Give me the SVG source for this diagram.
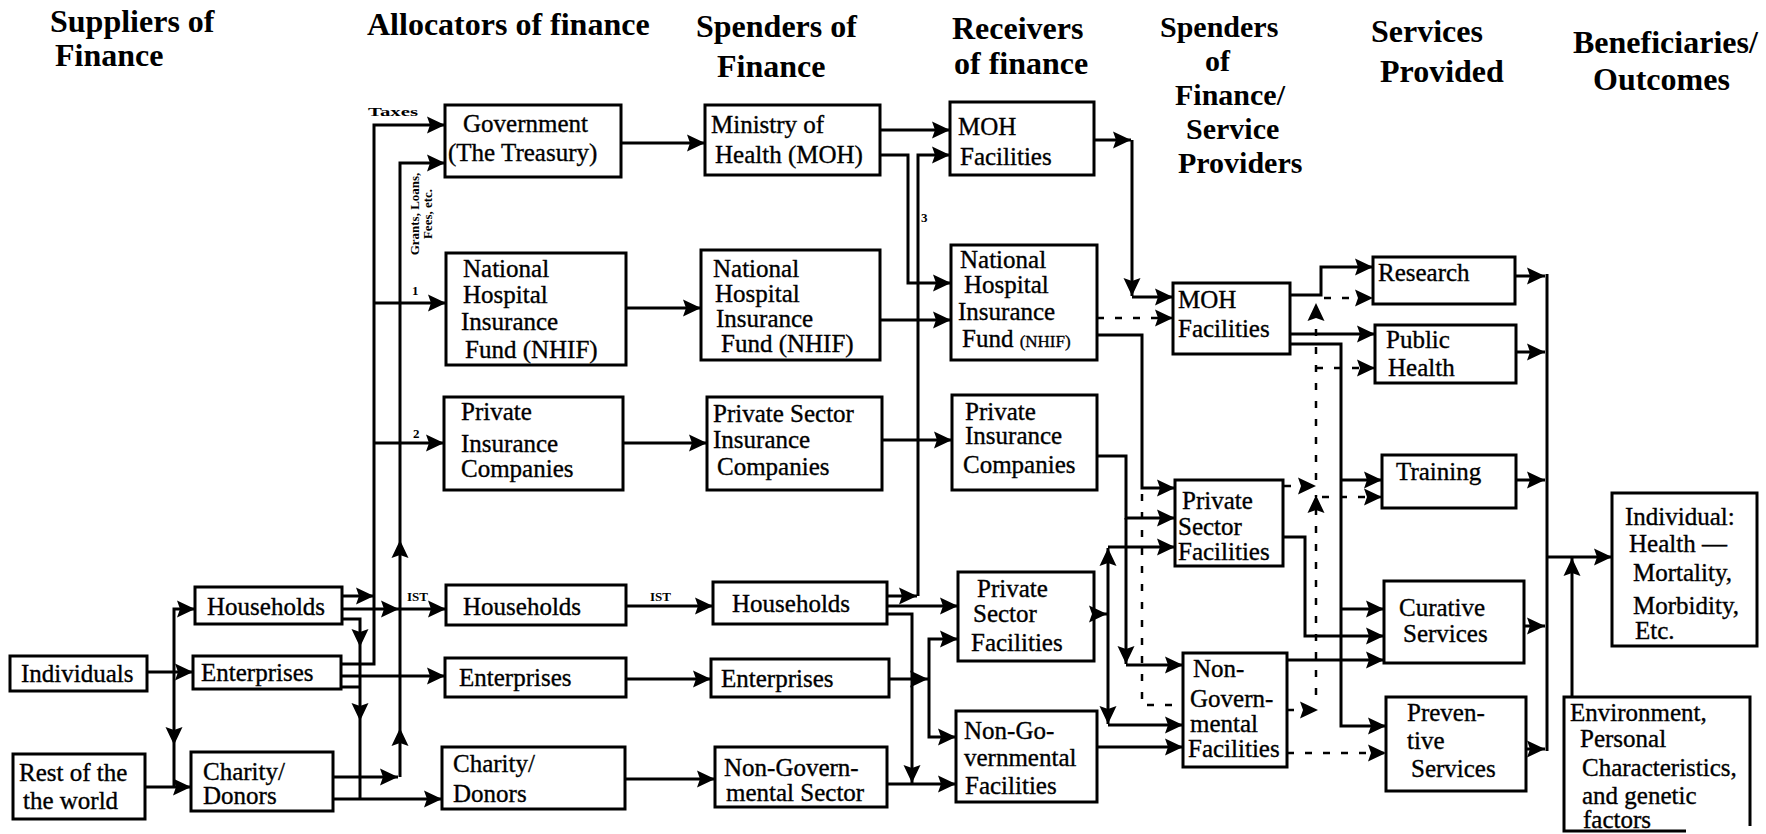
<svg xmlns="http://www.w3.org/2000/svg" width="1766" height="834" viewBox="0 0 1766 834" font-family="Liberation Serif, Times New Roman, serif">
<style>
.b{fill:#fff;stroke:#000;stroke-width:3}
.t{font-size:25px;fill:#000;stroke:#000;stroke-width:0.35px}
.h{font-size:32px;font-weight:bold;fill:#000}
.hs{font-size:30px}
.s{font-size:13px;font-weight:bold;fill:#000}
.c{fill:none;stroke:#000;stroke-width:3}
.a{marker-end:url(#ah)}
.d{fill:none;stroke:#000;stroke-width:2.5;stroke-dasharray:7 11}
</style>
<defs>
<marker id="ah" markerUnits="userSpaceOnUse" markerWidth="18" markerHeight="18" viewBox="0 0 18 18" refX="18" refY="9" orient="auto"><path d="M0,0.5 L18,9 L0,17.5 L3,9 z" fill="#000"/></marker>
</defs>
<rect width="1766" height="834" fill="#fff"/>

<g id="headers">
<text class="h" x="50" y="32">Suppliers of</text>
<text class="h" x="55" y="66">Finance</text>
<text class="h" x="367" y="35">Allocators of finance</text>
<text class="h" x="696" y="37">Spenders of</text>
<text class="h" x="717" y="77">Finance</text>
<text class="h" x="952" y="39">Receivers</text>
<text class="h" x="954" y="74">of finance</text>
<text class="h hs" x="1160" y="37">Spenders</text>
<text class="h hs" x="1205" y="71">of</text>
<text class="h hs" x="1175" y="105">Finance/</text>
<text class="h hs" x="1186" y="139">Service</text>
<text class="h hs" x="1178" y="173">Providers</text>
<text class="h" x="1371" y="42">Services</text>
<text class="h" x="1380" y="82">Provided</text>
<text class="h" x="1573" y="53" font-size="31">Beneficiaries/</text>
<text class="h" x="1593" y="90">Outcomes</text>
</g>

<g id="n-individuals"><rect class="b" x="10" y="656" width="137" height="35"/><text class="t" x="21" y="682">Individuals</text></g>
<g id="n-rest-world"><rect class="b" x="13" y="754" width="132" height="65"/><text class="t" x="19" y="781">Rest of the</text><text class="t" x="23" y="809">the world</text></g>
<g id="n-households-sup"><rect class="b" x="195" y="587" width="147" height="37"/><text class="t" x="207" y="615">Households</text></g>
<g id="n-enterprises-sup"><rect class="b" x="193" y="656" width="148" height="33"/><text class="t" x="201" y="681">Enterprises</text></g>
<g id="n-charity-sup"><rect class="b" x="191" y="752" width="142" height="59"/><text class="t" x="203" y="780">Charity/</text><text class="t" x="203" y="804">Donors</text></g>

<g id="n-government"><rect class="b" x="445" y="105" width="176" height="72"/><text class="t" x="463" y="132">Government</text><text class="t" x="448" y="161">(The Treasury)</text></g>
<g id="n-nhif-alloc"><rect class="b" x="446" y="253" width="180" height="112"/><text class="t" x="463" y="277">National</text><text class="t" x="463" y="303">Hospital</text><text class="t" x="461" y="330">Insurance</text><text class="t" x="465" y="358">Fund (NHIF)</text></g>
<g id="n-pic-alloc"><rect class="b" x="444" y="397" width="179" height="93"/><text class="t" x="461" y="420">Private</text><text class="t" x="461" y="452">Insurance</text><text class="t" x="461" y="477">Companies</text></g>
<g id="n-households-alloc"><rect class="b" x="446" y="585" width="180" height="40"/><text class="t" x="463" y="615">Households</text></g>
<g id="n-enterprises-alloc"><rect class="b" x="445" y="658" width="181" height="39"/><text class="t" x="459" y="686">Enterprises</text></g>
<g id="n-charity-alloc"><rect class="b" x="442" y="747" width="183" height="62"/><text class="t" x="453" y="772">Charity/</text><text class="t" x="453" y="802">Donors</text></g>

<g id="n-moh"><rect class="b" x="705" y="105" width="175" height="70"/><text class="t" x="711" y="133">Ministry of</text><text class="t" x="715" y="163">Health (MOH)</text></g>
<g id="n-nhif-sp"><rect class="b" x="701" y="250" width="179" height="110"/><text class="t" x="713" y="277">National</text><text class="t" x="715" y="302">Hospital</text><text class="t" x="716" y="327">Insurance</text><text class="t" x="721" y="352">Fund (NHIF)</text></g>
<g id="n-psi-sp"><rect class="b" x="707" y="397" width="175" height="93"/><text class="t" x="713" y="422">Private Sector</text><text class="t" x="713" y="448">Insurance</text><text class="t" x="717" y="475">Companies</text></g>
<g id="n-households-sp"><rect class="b" x="713" y="582" width="174" height="42"/><text class="t" x="732" y="612">Households</text></g>
<g id="n-enterprises-sp"><rect class="b" x="711" y="659" width="178" height="38"/><text class="t" x="721" y="687">Enterprises</text></g>
<g id="n-ngs-sp"><rect class="b" x="715" y="747" width="172" height="60"/><text class="t" x="724" y="776">Non-Govern-</text><text class="t" x="726" y="801">mental Sector</text></g>

<g id="n-mohf-rc"><rect class="b" x="950" y="102" width="144" height="73"/><text class="t" x="958" y="135">MOH</text><text class="t" x="960" y="165">Facilities</text></g>
<g id="n-nhif-rc"><rect class="b" x="951" y="245" width="146" height="115"/><text class="t" x="960" y="268">National</text><text class="t" x="964" y="293">Hospital</text><text class="t" x="958" y="320">Insurance</text><text class="t" x="962" y="347">Fund <tspan font-size="17">(NHIF)</tspan></text></g>
<g id="n-pic-rc"><rect class="b" x="952" y="395" width="145" height="95"/><text class="t" x="965" y="420">Private</text><text class="t" x="965" y="444">Insurance</text><text class="t" x="963" y="473">Companies</text></g>
<g id="n-psf-rc"><rect class="b" x="958" y="572" width="136" height="89"/><text class="t" x="977" y="597">Private</text><text class="t" x="973" y="622">Sector</text><text class="t" x="971" y="651">Facilities</text></g>
<g id="n-ngf-rc"><rect class="b" x="956" y="711" width="141" height="91"/><text class="t" x="964" y="739">Non-Go-</text><text class="t" x="964" y="766">vernmental</text><text class="t" x="965" y="794">Facilities</text></g>

<g id="n-mohf-pr"><rect class="b" x="1173" y="283" width="117" height="71"/><text class="t" x="1178" y="308">MOH</text><text class="t" x="1178" y="337">Facilities</text></g>
<g id="n-psf-pr"><rect class="b" x="1175" y="480" width="108" height="86"/><text class="t" x="1182" y="509">Private</text><text class="t" x="1178" y="535">Sector</text><text class="t" x="1178" y="560">Facilities</text></g>
<g id="n-ngf-pr"><rect class="b" x="1183" y="653" width="104" height="114"/><text class="t" x="1193" y="677">Non-</text><text class="t" x="1190" y="707">Govern-</text><text class="t" x="1190" y="732">mental</text><text class="t" x="1188" y="757">Facilities</text></g>

<g id="n-research"><rect class="b" x="1373" y="257" width="142" height="47"/><text class="t" x="1378" y="281">Research</text></g>
<g id="n-public-health"><rect class="b" x="1375" y="325" width="141" height="58"/><text class="t" x="1386" y="348">Public</text><text class="t" x="1388" y="376">Health</text></g>
<g id="n-training"><rect class="b" x="1382" y="455" width="134" height="53"/><text class="t" x="1396" y="480">Training</text></g>
<g id="n-curative"><rect class="b" x="1384" y="581" width="140" height="82"/><text class="t" x="1399" y="616">Curative</text><text class="t" x="1403" y="642">Services</text></g>
<g id="n-preventive"><rect class="b" x="1386" y="697" width="140" height="94"/><text class="t" x="1407" y="721">Preven-</text><text class="t" x="1407" y="749">tive</text><text class="t" x="1411" y="777">Services</text></g>

<g id="n-individual-health"><rect class="b" x="1612" y="493" width="145" height="153"/><text class="t" x="1625" y="525">Individual:</text><text class="t" x="1629" y="552">Health  —</text><text class="t" x="1633" y="581">Mortality,</text><text class="t" x="1633" y="614">Morbidity,</text><text class="t" x="1635" y="639">Etc.</text></g>
<g id="n-environment"><path class="b" d="M1686,831 H1564 V697 H1750 V826"/><text class="t" x="1570" y="721">Environment,</text><text class="t" x="1580" y="747">Personal</text><text class="t" x="1582" y="776">Characteristics,</text><text class="t" x="1582" y="804">and genetic</text><text class="t" x="1583" y="828">factors</text></g>

<g id="connectors">
<path class="c a" d="M147,672 H193"/>
<path class="c a" d="M174,672 V609 H195"/>
<path class="c a" d="M174,672 V745"/>
<path class="c" d="M174,745 V787"/>
<path class="c a" d="M145,787 H191"/>
<path class="c a" d="M342,596 H374"/>
<path class="c a" d="M342,609 H399"/>
<path class="c a" d="M400,609 H446"/>
<path class="c a" d="M342,619 H360 V647"/>
<path class="c a" d="M360,647 V721"/>
<path class="c" d="M360,721 V799"/>
<path class="c a" d="M341,664 H374 V125 H445"/>
<path class="c a" d="M374,303 H446"/>
<path class="c a" d="M374,443 H444"/>
<path class="c a" d="M341,676 H445"/>
<path class="c" d="M341,687 H360"/>
<path class="c a" d="M333,777 H398"/>
<path class="c a" d="M400,777 V728"/>
<path class="c a" d="M400,728 V540"/>
<path class="c a" d="M400,540 V163 H445"/>
<path class="c a" d="M333,799 H442"/>

<path class="c a" d="M621,143 H705"/>
<path class="c a" d="M626,308 H701"/>
<path class="c a" d="M623,443 H707"/>
<path class="c a" d="M626,606 H713"/>
<path class="c a" d="M626,679 H711"/>
<path class="c a" d="M625,779 H715"/>

<path class="c a" d="M880,130 H950"/>
<path class="c a" d="M880,155 H908 V283 H951"/>
<path class="c a" d="M887,596 H917"/>
<path class="c a" d="M918,596 V155 H950"/>
<path class="c a" d="M880,320 H951"/>
<path class="c a" d="M882,440 H952"/>
<path class="c a" d="M887,606 H958"/>
<path class="c a" d="M887,614 H912 V783"/>
<path class="c a" d="M889,679 H928"/>
<path class="c a" d="M929,679 V639 H958"/>
<path class="c a" d="M929,679 V737 H956"/>
<path class="c a" d="M887,784 H956"/>

<path class="c a" d="M1094,140 H1131"/>
<path class="c a" d="M1132,140 V296"/>
<path class="c a" d="M1132,297 H1173"/>
<path class="d a" d="M1097,318 H1173"/>
<path class="c a" d="M1097,335 H1142 V488 H1175"/>
<path class="c a" d="M1097,456 H1126 V518 H1175"/>
<path class="c a" d="M1126,518 V664"/>
<path class="c a" d="M1126,665 H1183"/>
<path class="c a" d="M1094,614 H1107"/>
<path class="c a" d="M1108,614 V548"/>
<path class="c a" d="M1108,547 H1175"/>
<path class="c a" d="M1108,614 V724"/>
<path class="c a" d="M1108,725 H1183"/>
<path class="c a" d="M1097,747 H1183"/>
<path class="d" d="M1142,494 V705 H1172"/>

<path class="c a" d="M1290,295 H1321 V267 H1373"/>
<path class="c a" d="M1290,334 H1375"/>
<path class="c a" d="M1290,344 H1341 V726 H1386"/>
<path class="c a" d="M1341,480 H1382"/>
<path class="c a" d="M1341,609 H1384"/>
<path class="c a" d="M1283,537 H1305 V636 H1384"/>
<path class="c a" d="M1287,660 H1384"/>
<path class="d a" d="M1287,753 H1386"/>
<path class="d a" d="M1284,486 H1316"/>
<path class="d a" d="M1322,497 H1382"/>
<path class="d a" d="M1316,695 V495"/>
<path class="d a" d="M1316,480 V303"/>
<path class="d a" d="M1316,368 H1375"/>
<path class="d a" d="M1324,298 H1373"/>
<path class="d a" d="M1287,710 H1318"/>

<path class="c a" d="M1515,276 H1545"/>
<path class="c a" d="M1516,352 H1545"/>
<path class="c a" d="M1516,480 H1545"/>
<path class="c a" d="M1524,626 H1545"/>
<path class="c a" d="M1526,749 H1545"/>
<path class="c" d="M1547,274 V751"/>
<path class="c a" d="M1547,557 H1612"/>
<path class="c a" d="M1572,697 V558"/>
</g>

<g id="labels">
<text class="s" x="368" y="116" font-size="17" textLength="50" lengthAdjust="spacingAndGlyphs">Taxes</text>
<text class="s" x="412" y="295">1</text>
<text class="s" x="413" y="438">2</text>
<text class="s" x="921" y="222">3</text>
<text class="s" x="407" y="601">IST</text>
<text class="s" x="650" y="601">IST</text>
<text class="s" font-size="14" transform="translate(419,214) rotate(-90)" text-anchor="middle">Grants, Loans,</text>
<text class="s" font-size="14" transform="translate(432,214) rotate(-90)" text-anchor="middle">Fees, etc.</text>
</g>
</svg>
